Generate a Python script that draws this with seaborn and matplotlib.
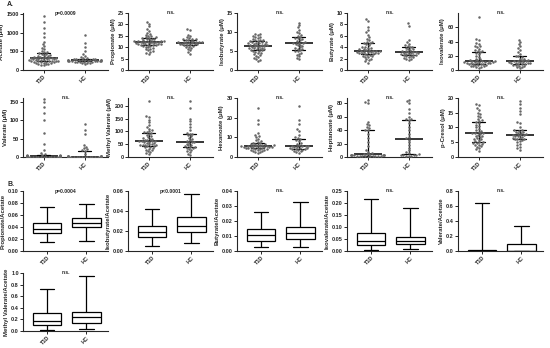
import numpy as np
import pandas as pd
import matplotlib
matplotlib.use("Agg")
import matplotlib.pyplot as plt
import seaborn as sns

groups = ["T1D", "HC"]

# A. faecal concentrations (uM)
acetate_t1d = [1450, 1300, 1120, 980, 880, 760, 690, 640, 600, 560, 520, 490, 470, 455, 440,
               425, 410, 395, 380, 372, 360, 352, 341, 335, 330, 326, 320, 316, 310, 302,
               296, 290, 284, 279, 271, 266, 259, 255, 250, 244, 240, 236, 231, 226, 219,
               211, 204, 196, 188, 181, 172, 163, 150, 141, 128]
acetate_hc = [950, 720, 610, 520, 430, 372, 341, 322, 310, 301, 296, 289, 285, 281, 276,
              271, 268, 264, 262, 260, 258, 255, 252, 249, 247, 244, 240, 236, 232, 228,
              224, 219, 214, 208, 199, 190, 176, 160]

propionate_t1d = [21, 20.2, 19.1, 18, 17.2, 16.4, 16, 15.4, 15.1, 14.8, 14.5, 14.3, 14.1, 14,
                  13.8, 13.6, 13.4, 13.2, 13, 12.9, 12.8, 12.7, 12.6, 12.5, 12.5, 12.4, 12.3,
                  12.2, 12.1, 12, 11.9, 11.8, 11.7, 11.5, 11.4, 11.3, 11.2, 11.1, 11, 10.9,
                  10.8, 10.6, 10.4, 10.2, 10, 9.7, 9.4, 9, 8.7, 8.3, 8, 7.6, 7.2]
propionate_hc = [18, 17.5, 15.5, 15, 14.5, 14, 13.8, 13.6, 13.4, 13.2, 13, 12.8, 12.6, 12.5,
                 12.4, 12.3, 12.2, 12.1, 12, 11.9, 11.8, 11.6, 11.5, 11.3, 11.2, 11.1, 11,
                 10.8, 10.5, 10.2, 10, 9.6, 9.2, 8.6, 8, 7.2]

isobutyrate_t1d = [9.6, 9.4, 9.2, 9, 8.8, 8.6, 8.4, 8.2, 8, 7.9, 7.8, 7.7, 7.6, 7.5, 7.4, 7.3,
                   7.2, 7.1, 7, 6.9, 6.8, 6.7, 6.6, 6.5, 6.5, 6.4, 6.3, 6.2, 6.1, 6, 5.9, 5.8,
                   5.7, 5.6, 5.5, 5.4, 5.3, 5.2, 5.1, 5, 4.8, 4.6, 4.4, 4.2, 4, 3.8, 3.5, 3.2,
                   3, 2.7, 2.4]
isobutyrate_hc = [12.5, 11.8, 11.2, 10.6, 10.1, 9.7, 9.3, 9, 8.7, 8.5, 8.3, 8.1, 7.8, 7.6,
                  7.4, 7.2, 7.1, 7, 6.9, 6.7, 6.5, 6.2, 6, 5.8, 5.6, 5.4, 5.3, 5.1, 4.9, 4.6,
                  4.3, 4, 3.6, 3.2, 2.8]

butyrate_t1d = [9, 8.6, 7.6, 7, 6.6, 6.2, 5.8, 5.5, 5.2, 5, 4.9, 4.8, 4.7, 4.5, 4.3, 4.1, 4,
                3.9, 3.8, 3.7, 3.6, 3.5, 3.5, 3.4, 3.4, 3.3, 3.3, 3.2, 3.2, 3.1, 3.1, 3, 3,
                2.9, 2.9, 2.8, 2.8, 2.7, 2.6, 2.5, 2.4, 2.3, 2.2, 2, 1.9, 1.7, 1.5, 1.3]
butyrate_hc = [8.2, 7.8, 5.3, 4.9, 4.6, 4.4, 4.2, 4.1, 4, 3.9, 3.7, 3.6, 3.5, 3.4, 3.3, 3.2,
               3.15, 3.1, 3.05, 3, 2.9, 2.85, 2.8, 2.75, 2.7, 2.65, 2.6, 2.5, 2.4, 2.3, 2.2,
               2.1, 2, 1.9, 1.8]

isovalerate_t1d = [75, 44, 42, 38, 36, 34, 33, 32, 30, 28, 27, 26, 25, 24, 22, 20, 18, 16, 15,
                   14, 13.5, 13, 12.6, 12.3, 12, 11.8, 11.5, 11.2, 11, 10.8, 10.5, 10.3, 10,
                   9.7, 9.4, 9, 8.6, 8.2, 7.8, 7.4, 7, 6.5, 6, 5.5, 5, 4.5, 4, 3.5]
isovalerate_hc = [42, 39, 36, 33, 31, 28, 25, 22, 20, 19, 18, 16, 15, 14, 13.5, 13, 12.5, 12,
                  11.6, 11.2, 10.8, 10.4, 10, 9.6, 9.3, 9, 8.5, 8, 7.4, 6.8, 6, 5.2, 4.5, 3.6,
                  2.5]

valerate_t1d = [158, 148, 135, 118, 100, 65, 35, 18, 12, 8, 6, 5, 4.5, 4, 3.8, 3.5, 3.2, 3,
                2.8, 2.6, 2.4, 2.2, 2, 2, 1.9, 1.8, 1.7, 1.6, 1.5, 1.4, 1.3, 1.2, 1.1, 1, 0.9,
                0.8, 0.7, 0.6, 0.5, 0.4, 0.3, 0.2, 0.1, 0, 0, 0, 0, 0]
valerate_hc = [90, 72, 62, 32, 28, 24, 21, 19, 17, 8, 4, 3, 2.5, 2, 1.8, 1.5, 1.2, 1, 0.9,
               0.8, 0.6, 0.5, 0.4, 0.3, 0.2, 0.1, 0, 0, 0, 0, 0, 0]

methylvalerate_t1d = [220, 160, 155, 145, 135, 125, 118, 110, 105, 100, 98, 96, 94, 90, 86, 82,
                      78, 75, 72, 70, 68, 66, 64, 63, 62, 61, 60, 58, 56, 54, 52, 50, 48, 47,
                      46, 45, 44, 42, 40, 38, 35, 32, 29, 26, 22, 18, 14, 10]
methylvalerate_hc = [220, 190, 150, 140, 130, 115, 105, 95, 90, 88, 84, 80, 75, 70, 66, 62, 60,
                     58, 55, 52, 48, 45, 42, 40, 38, 36, 34, 30, 26, 22, 18, 12, 6]

hexanoate_t1d = [25, 19, 17, 12, 11, 10.5, 10, 9, 8.5, 8, 7.6, 7.3, 7, 6.8, 6.6, 6.4, 6.2, 6,
                 5.9, 5.8, 5.7, 5.6, 5.5, 5.5, 5.4, 5.3, 5.2, 5.1, 5, 4.9, 4.8, 4.7, 4.6, 4.5,
                 4.4, 4.3, 4.2, 4, 3.8, 3.6, 3.4, 3.2, 3, 2.7, 2.4, 2]
hexanoate_hc = [26, 19, 17, 14, 13, 11, 10, 9.5, 9, 8.5, 8, 7, 6.5, 6, 5.8, 5.6, 5.5, 5.4, 5.2,
                5, 4.8, 4.6, 4.4, 4.3, 4.2, 4, 3.8, 3.5, 3.2, 2.8, 2.4, 2]

heptanoate_t1d = [85, 82, 80, 52, 49, 47, 45, 43, 41, 40, 35, 28, 22, 16, 11, 8, 6, 5, 4.5, 4,
                  3.5, 3.2, 3, 3, 2.8, 2.6, 2.4, 2.2, 2, 2, 1.8, 1.6, 1.4, 1.2, 1, 0.8, 0.5]
heptanoate_hc = [85, 83, 80, 72, 65, 60, 57, 56, 55, 50, 45, 40, 35, 30, 28, 26, 22, 18, 14, 10,
                 8, 6, 4, 3.5, 3, 2.8, 2.5, 2, 1.5, 1]

pcresol_t1d = [18, 17.5, 16.5, 15.8, 15, 14.5, 14, 13.5, 13, 12.6, 12.3, 12, 11.5, 11, 10.5,
               10, 9.5, 9, 8.8, 8.5, 8.2, 8, 8, 7.8, 7.5, 7.2, 7, 6.8, 6.5, 6.2, 6, 5.8, 5.5,
               5.2, 5, 4.8, 4.6, 4.4, 4.2, 4, 3.7, 3.4, 3, 2.6, 2.2]
pcresol_hc = [19, 18, 16.5, 15.5, 14.5, 12, 11.5, 10, 9.2, 9, 8.8, 8.6, 8.4, 8.2, 8, 7.8, 7.6,
              7.4, 7.3, 7.2, 7, 6.8, 6.6, 6.4, 6.2, 6.1, 6, 5.8, 5.5, 5, 4.5, 4, 3.5, 3, 2.5]

# B. ratios to acetate: min, Q1, median, Q3, max (box and whiskers, min to max)
prop_ac_t1d = [0.015, 0.030, 0.037, 0.047, 0.073]
prop_ac_hc = [0.016, 0.040, 0.047, 0.055, 0.078]
isobut_ac_t1d = [0.005, 0.014, 0.019, 0.025, 0.042]
isobut_ac_hc = [0.008, 0.019, 0.025, 0.034, 0.057]
but_ac_t1d = [0.003, 0.007, 0.011, 0.015, 0.026]
but_ac_hc = [0.003, 0.008, 0.012, 0.016, 0.033]
isoval_ac_t1d = [0.005, 0.025, 0.040, 0.073, 0.215]
isoval_ac_hc = [0.010, 0.030, 0.040, 0.058, 0.180]
val_ac_t1d = [0.0, 0.002, 0.005, 0.012, 0.64]
val_ac_hc = [0.0, 0.0, 0.005, 0.09, 0.33]
mval_ac_t1d = [0.02, 0.10, 0.17, 0.31, 0.73]
mval_ac_hc = [0.03, 0.13, 0.24, 0.33, 0.95]

sns.set_style("ticks")
plt.rcParams['font.family'] = ['Liberation Sans', 'DejaVu Sans']
plt.rcParams['font.weight'] = 'bold'
plt.rcParams['axes.linewidth'] = 0.8

fig = plt.figure(figsize=(5.5, 3.48), dpi=100)
W, H = 550.0, 348.0
col_left = [23, 128, 237, 347, 458]
col_w = 85
rows = [(13, 70), (98, 157), (191, 251), (273, 331)]


def make_ax(row, col):
    top, bottom = rows[row]
    return fig.add_axes([col_left[col] / W, 1 - bottom / H, col_w / W, (bottom - top) / H])


def style_ax(ax, ylabel, note, ymax, step, fmt):
    sns.despine(ax=ax)
    ax.set_xlabel('')
    ax.set_ylabel(ylabel, fontsize=4.3, fontweight='bold', labelpad=1.5)
    ax.set_ylim(0, ymax)
    ax.set_yticks(np.arange(0, ymax + step * 0.01, step))
    ax.yaxis.set_major_formatter(matplotlib.ticker.FormatStrFormatter(fmt))
    ax.tick_params(labelsize=4, length=2, width=0.7, pad=1)
    for lab in ax.get_xticklabels():
        lab.set_rotation(45)
        lab.set_ha('right')
        lab.set_rotation_mode('anchor')
    ax.text(0.5, 1.0, note, transform=ax.transAxes, ha='center', va='center', fontsize=3.6)


def iqr(v):
    return np.percentile(v, 25), np.percentile(v, 75)


def dot_panel(ax, t1d, hc, ylabel, note, ymax, step, top_tick=None):
    df = pd.DataFrame({'group': ['T1D'] * len(t1d) + ['HC'] * len(hc), 'value': t1d + hc})
    sns.swarmplot(data=df, x='group', y='value', order=groups, ax=ax, size=1.8,
                  color='#666666', linewidth=0, warn_thresh=1)
    sns.pointplot(data=df, x='group', y='value', order=groups, ax=ax, estimator='median',
                  errorbar=iqr, capsize=0.32, color='black', markers='_', linestyles='none',
                  markersize=20, markeredgewidth=1.1, err_kws={'linewidth': 0.9})
    ax.set_xlim(-0.5, 1.57)
    style_ax(ax, ylabel, note, ymax, step, '%g')
    if top_tick is not None:
        ax.set_yticks(np.arange(0, top_tick + 0.01, step))


def box_panel(ax, t1d, hc, ylabel, note, ymax, step, fmt):
    df = pd.DataFrame({'group': ['T1D'] * len(t1d) + ['HC'] * len(hc), 'value': t1d + hc})
    sns.boxplot(data=df, x='group', y='value', order=groups, ax=ax, whis=(0, 100),
                width=0.72, color='white', linecolor='black', linewidth=0.9, fliersize=0)
    ax.set_xlim(-0.62, 1.55)
    style_ax(ax, ylabel, note, ymax, step, fmt)


dot_specs = [
    (acetate_t1d, acetate_hc, 'Acetate (μM)', 'p=0.0009', 1530, 500, None),
    (propionate_t1d, propionate_hc, 'Propionate (μM)', 'n.s.', 25, 5, None),
    (isobutyrate_t1d, isobutyrate_hc, 'Isobutyrate (μM)', 'n.s.', 15, 5, None),
    (butyrate_t1d, butyrate_hc, 'Butyrate (μM)', 'n.s.', 10, 2, None),
    (isovalerate_t1d, isovalerate_hc, 'Isovalerate (μM)', 'n.s.', 80, 20, 60),
    (valerate_t1d, valerate_hc, 'Valerate (μM)', 'n.s.', 160, 50, None),
    (methylvalerate_t1d, methylvalerate_hc, 'Methyl Valerate (μM)', 'n.s.', 230, 50, None),
    (hexanoate_t1d, hexanoate_hc, 'Hexanoate (μM)', 'n.s.', 30, 10, None),
    (heptanoate_t1d, heptanoate_hc, 'Heptanoate (μM)', 'n.s.', 88, 20, None),
    (pcresol_t1d, pcresol_hc, 'p-Cresol (μM)', 'n.s.', 20, 5, None),
]
for i, (t, h, lab, note, ymax, step, tt) in enumerate(dot_specs):
    dot_panel(make_ax(i // 5, i % 5), t, h, lab, note, ymax, step, tt)

box_specs = [
    (prop_ac_t1d, prop_ac_hc, 'Propionate/Acetate', 'p=0.0004', 0.10, 0.02, '%.2f'),
    (isobut_ac_t1d, isobut_ac_hc, 'Isobutyrate/Acetate', 'p<0.0001', 0.06, 0.02, '%.2f'),
    (but_ac_t1d, but_ac_hc, 'Butyrate/Acetate', 'n.s.', 0.04, 0.01, '%.2f'),
    (isoval_ac_t1d, isoval_ac_hc, 'Isovalerate/Acetate', 'n.s.', 0.25, 0.05, '%.2f'),
    (val_ac_t1d, val_ac_hc, 'Valerate/Acetate', 'n.s.', 0.8, 0.2, '%.1f'),
    (mval_ac_t1d, mval_ac_hc, 'Methyl Valerate/Acetate', 'n.s.', 1.0, 0.2, '%.1f'),
]
for i, (t, h, lab, note, ymax, step, fmt) in enumerate(box_specs):
    box_panel(make_ax(2 + i // 5, i % 5), t, h, lab, note, ymax, step, fmt)

fig.text(7 / W, 1 - 5 / H, 'A.', fontsize=5, fontweight='bold', va='center')
fig.text(7 / W, 1 - 184 / H, 'B.', fontsize=5, fontweight='bold', va='center')

fig.savefig('out.png', dpi=100)
